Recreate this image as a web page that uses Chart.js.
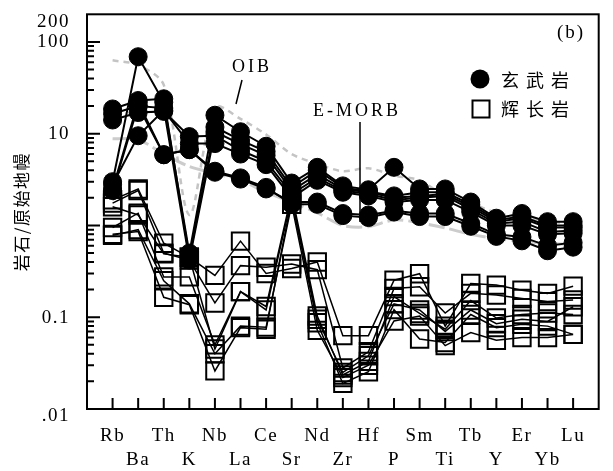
<!DOCTYPE html>
<html>
<head>
<meta charset="utf-8">
<script src="https://cdn.jsdelivr.net/npm/chart.js@4.4.1/dist/chart.umd.min.js"></script>
<style>
html, body { margin: 0; padding: 0; background: #fff; }
#c { display: block; }
</style>
</head>
<body>
<canvas id="c" width="613" height="471"></canvas>
<script>
const elements = ['Rb','Ba','Th','K','Nb','La','Ce','Sr','Nd','Zr','Hf','P','Sm','Ti','Tb','Y','Er','Yb','Lu'];
const yTickValues = [200, 100, 10, 0.1, 0.01];
const yTickLabels = ['200', '100', '10', '0.1', '.01'];

// 玄武岩
const basalt1 = [3.0, 69, 22, 0.5, 15.9, 10.5, 7.3, 2.9, 4.3, 2.7, 2.45, 4.3, 2.5, 2.5, 1.8, 1.2, 1.35, 1.1, 1.1];
const basalt2 = [18.6, 23, 24, 0.45, 11.8, 8.5, 6.4, 2.6, 4.0, 2.6, 2.35, 2.1, 2.3, 2.3, 1.7, 1.15, 1.25, 1.0, 1.0];
const basalt3 = [16.5, 20, 19, 0.42, 10.5, 7.7, 5.8, 2.4, 3.6, 2.5, 2.3, 2.0, 2.1, 2.2, 1.6, 1.1, 1.2, 0.95, 0.95];
const basalt4 = [14.1, 17, 17.5, 9.3, 9.5, 6.6, 5.0, 2.2, 3.3, 2.4, 2.2, 1.9, 2.0, 2.1, 1.5, 1.05, 1.1, 0.85, 0.88];
const basalt5 = [2.8, 9.5, 18, 7.8, 7.8, 6.0, 4.6, 2.0, 3.1, 2.3, 2.1, 1.8, 1.9, 1.9, 1.4, 1.0, 1.0, 0.8, 0.82];
const basalt6 = [2.5, 22, 5.9, 6.7, 3.8, 3.2, 2.5, 1.8, 1.8, 1.35, 1.3, 1.45, 1.35, 1.35, 1.05, 0.8, 0.75, 0.6, 0.65];
const basalt7 = [2.4, 20, 5.9, 6.7, 3.9, 3.3, 2.6, 1.7, 1.7, 1.28, 1.22, 1.4, 1.25, 1.25, 0.98, 0.76, 0.68, 0.53, 0.58];

// 辉长岩
const gabbro1 = [1.9, 2.5, 0.64, 0.45, 0.286, 0.675, 0.30, 0.34, 0.40, 0.063, 0.063, 0.253, 0.298, 0.08, 0.233, 0.224, 0.197, 0.182, 0.218];
const gabbro2 = [1.75, 2.4, 0.5, 0.42, 0.143, 0.365, 0.35, 0.38, 0.33, 0.028, 0.042, 0.206, 0.215, 0.111, 0.182, 0.175, 0.16, 0.148, 0.154];
const gabbro3 = [0.95, 1.36, 0.275, 0.275, 0.05, 0.19, 0.131, 2.2, 0.103, 0.0235, 0.033, 0.168, 0.11, 0.074, 0.152, 0.098, 0.107, 0.111, 0.107];
const gabbro4 = [0.8, 0.86, 0.165, 0.137, 0.026, 0.077, 0.074, 1.9, 0.087, 0.019, 0.0255, 0.121, 0.058, 0.053, 0.107, 0.077, 0.084, 0.08, 0.065];
const gabbro5 = [0.78, 0.9, 0.25, 0.14, 0.04, 0.08, 0.078, 1.7, 0.072, 0.022, 0.03, 0.091, 0.103, 0.049, 0.068, 0.056, 0.06, 0.06, 0.065];
const gabbro6 = [1.6, 1.3, 0.49, 0.45, 0.045, 0.19, 0.12, 2.0, 0.095, 0.025, 0.038, 0.14, 0.12, 0.07, 0.12, 0.085, 0.095, 0.09, 0.13];

// 参考曲线
const oib = [63, 56, 34, 1.3, 19.4, 14.5, 9.8, 6.0, 4.7, 3.9, 4.2, 3.5, 3.1, 2.1, 1.75, 1.37, 1.24, 1.12, 1.02];
const emorb = [8.8, 8.6, 6.0, 4.4, 3.7, 3.1, 2.3, 1.8, 1.37, 1.0, 0.97, 1.15, 1.07, 0.94, 0.8, 0.72, 0.67, 0.64, 0.62];

const serif = "'Liberation Serif', 'Times New Roman', serif";
const cjk = "'Noto Sans CJK SC', sans-serif";

function pts(arr) {
    return arr.map(function(v, i) { return {x: i, y: v}; });
}

var datasets = [];
[basalt1, basalt2, basalt3, basalt4, basalt5, basalt6, basalt7].forEach(function(s) {
    datasets.push({
        data: pts(s),
        borderColor: '#000',
        borderWidth: 2,
        pointRadius: 9,
        pointBackgroundColor: '#000',
        pointBorderColor: '#000',
        pointBorderWidth: 1
    });
});
[gabbro1, gabbro2, gabbro3, gabbro4, gabbro5, gabbro6].forEach(function(s) {
    datasets.push({
        data: pts(s),
        borderColor: '#000',
        borderWidth: 1.5,
        pointStyle: 'rect',
        pointRadius: 12.3,
        pointBackgroundColor: 'rgba(0,0,0,0)',
        pointBorderColor: '#000',
        pointBorderWidth: 2
    });
});
datasets.push({
    data: pts(oib),
    borderColor: '#c4c4c4',
    borderWidth: 2.5,
    borderDash: [6, 5],
    pointRadius: 0,
    tension: 0.3
});
datasets.push({
    data: pts(emorb),
    borderColor: '#cccccc',
    borderWidth: 3,
    borderDash: [16, 5],
    pointRadius: 0,
    tension: 0.3
});

const decor = {
    id: 'decor',
    beforeDraw(chart) {
        chart.ctx.letterSpacing = '1.5px';
    },
    beforeDatasetsDraw(chart) {
        const {ctx, chartArea: a, scales: {x, y}} = chart;
        ctx.save();
        ctx.strokeStyle = '#000';
        ctx.lineWidth = 2;
        ctx.strokeRect(a.left, a.top, a.right - a.left, a.bottom - a.top);
        // x ticks, pointing inward
        ctx.beginPath();
        elements.forEach(function(e, i) {
            var px = x.getPixelForValue(i);
            ctx.moveTo(px, a.bottom);
            ctx.lineTo(px, a.bottom - 11);
        });
        ctx.stroke();
        // y ticks
        ctx.beginPath();
        for (var d = -2; d <= 2; d++) {
            for (var k = 1; k <= 9; k++) {
                var v = k * Math.pow(10, d);
                if (v <= 0.01 || v >= 200) continue;
                var py = y.getPixelForValue(v);
                ctx.moveTo(a.left, py);
                ctx.lineTo(a.left + (k === 1 ? 13 : 7), py);
            }
        }
        ctx.stroke();
        // y labels
        ctx.fillStyle = '#000';
        ctx.font = '19px ' + serif;
        ctx.textAlign = 'right';
        ctx.textBaseline = 'middle';
        yTickValues.forEach(function(v, i) {
            var py = y.getPixelForValue(v);
            if (v === 200) py += 7.5;
            else if (v === 0.01) py += 7;
            else py += 0.5;
            ctx.fillText(yTickLabels[i], a.left - 17, py);
        });
        ctx.restore();
    },
    afterDraw(chart) {
        const {ctx} = chart;
        ctx.save();
        ctx.fillStyle = '#000';
        ctx.strokeStyle = '#000';
        // legend
        ctx.beginPath();
        ctx.arc(480, 79, 9.5, 0, Math.PI * 2);
        ctx.fill();
        ctx.lineWidth = 2;
        ctx.strokeRect(472.5, 100.5, 17, 17);
        ctx.font = '18px ' + cjk;
        ctx.letterSpacing = '7px';
        ctx.textAlign = 'left';
        ctx.textBaseline = 'middle';
        ctx.fillText('玄武岩', 501, 80);
        ctx.fillText('辉长岩', 501, 109);
        // labels
        ctx.font = '18px ' + serif;
        ctx.letterSpacing = '3px';
        ctx.fillText('OIB', 232, 67);
        ctx.fillText('E-MORB', 313, 111);
        ctx.font = '19px ' + serif;
        ctx.letterSpacing = '2px';
        ctx.fillText('(b)', 557, 33);
        // leader lines
        ctx.lineWidth = 1.5;
        ctx.beginPath();
        ctx.moveTo(242, 80);
        ctx.lineTo(236, 104);
        ctx.moveTo(360, 122);
        ctx.lineTo(360, 222);
        ctx.stroke();
        ctx.restore();
    }
};

new Chart(document.getElementById('c'), {
    type: 'line',
    data: { datasets: datasets },
    options: {
        responsive: false,
        devicePixelRatio: 1,
        animation: false,
        events: [],
        layout: { padding: { top: 6, right: 11, left: 0, bottom: 0 } },
        plugins: { legend: { display: false }, tooltip: { enabled: false } },
        scales: {
            x: {
                type: 'linear',
                min: -1,
                max: 19,
                grid: { display: false, drawTicks: false },
                border: { display: false },
                afterBuildTicks: function(s) {
                    s.ticks = elements.map(function(e, i) { return {value: i}; });
                },
                afterFit: function(s) { s.height = 62; },
                ticks: {
                    autoSkip: false,
                    maxRotation: 0,
                    padding: 15,
                    color: '#000',
                    font: { family: serif, size: 19, lineHeight: 1.2632 },
                    callback: function(v) {
                        var name = elements[v];
                        return v % 2 === 0 ? [name, ''] : ['', name];
                    }
                }
            },
            y: {
                type: 'logarithmic',
                min: 0.01,
                max: 200,
                grid: { display: false, drawTicks: false },
                border: { display: false },
                ticks: { display: false },
                afterFit: function(s) { s.width = 87; },
                title: {
                    display: true,
                    text: '岩石/原始地幔',
                    color: '#000',
                    font: { family: cjk, size: 17 },
                    padding: { top: 11, bottom: 0 }
                }
            }
        }
    },
    plugins: [decor]
});
</script>
</body>
</html>
